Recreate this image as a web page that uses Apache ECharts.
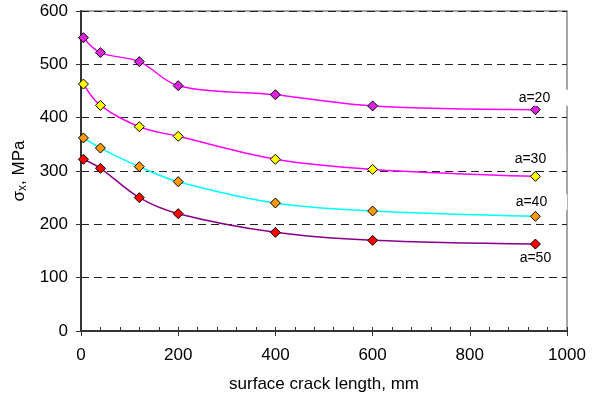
<!DOCTYPE html>
<html>
<head>
<meta charset="utf-8">
<script src="https://cdn.jsdelivr.net/npm/echarts@6/dist/echarts.min.js"></script>
<style>
  html, body { margin: 0; padding: 0; background: #fff; }
  #chart { width: 599px; height: 398px; }
</style>
</head>
<body>
<div id="chart"></div>
<script>
// surface crack length, mm
const crackLength = [5, 40, 120, 200, 400, 600, 935];
// sigma_x, MPa for each a
const stressA20 = [550, 522, 505, 460, 443, 422, 415];
const stressA30 = [463, 423, 383, 365, 322, 303, 290];
const stressA40 = [362, 343, 308, 280, 240, 225, 215];
const stressA50 = [322, 305, 250, 220, 185, 170, 163];
const seriesNames = ["a=20", "a=30", "a=40", "a=50"];

const FONT = "Liberation Sans, Arial, sans-serif";

function buildSeries(name, values, lineColor, markerColor, labelOffset, boxed) {
  const data = values.map((v, i) => [crackLength[i], v]);
  const last = data.length - 1;
  data[last] = {
    value: data[last],
    label: {
      show: true,
      formatter: name,
      position: "inside",
      offset: labelOffset,
      color: "#000",
      fontFamily: FONT,
      fontSize: 14,
      backgroundColor: boxed ? "#fff" : "transparent",
      padding: boxed ? [1, 20, 1, 4] : 0,
    },
  };
  return {
    name: name,
    type: "line",
    smooth: 0.35,
    data: data,
    symbol: "diamond",
    symbolSize: 10,
    lineStyle: { color: lineColor, width: 1.5 },
    itemStyle: { color: markerColor, borderColor: "#000", borderWidth: 1 },
    label: { show: false },
    z: 3,
  };
}

const chart = echarts.init(document.getElementById("chart"));

const options = {
  animation: false,
  backgroundColor: "#fff",
  grid: {
    left: 81,
    right: 32,
    top: 11,
    bottom: 65,
    show: true,
    borderColor: "#888",
    borderWidth: 1.5,
  },
  xAxis: [
    {
      type: "value",
      min: 0,
      max: 1000,
      interval: 200,
      name: "surface crack length, mm",
      nameLocation: "middle",
      nameGap: 45,
      nameTextStyle: { fontFamily: FONT, fontSize: 17, color: "#000" },
      axisLine: { show: true, onZero: false, lineStyle: { color: "#333", width: 2 } },
      axisTick: { show: true, inside: false, length: 5, lineStyle: { color: "#333", width: 1 } },
      axisLabel: { fontFamily: FONT, fontSize: 17, color: "#000", margin: 16, formatter: (v) => String(v) },
      splitLine: { show: false },
    },
    {
      // minor ticks drawn inward
      type: "value",
      min: 0,
      max: 1000,
      interval: 40,
      position: "bottom",
      axisLine: { show: false },
      axisTick: { show: true, inside: true, length: 4, lineStyle: { color: "#333", width: 1 } },
      axisLabel: { show: false },
      splitLine: { show: false },
    },
  ],
  yAxis: {
    type: "value",
    min: 0,
    max: 600,
    interval: 100,
    name: "{s|σ}{sub|x}{s|, MPa}",
    nameLocation: "middle",
    nameGap: 52,
    nameTextStyle: {
      color: "#000",
      rich: {
        s: { fontFamily: FONT, fontSize: 17, color: "#000" },
        sub: { fontFamily: FONT, fontSize: 12, color: "#000", verticalAlign: "bottom", padding: [7, 0, 0, 0] },
      },
    },
    axisLine: { show: true, lineStyle: { color: "#333", width: 2 } },
    axisTick: { show: true, inside: false, length: 5, lineStyle: { color: "#333", width: 1 } },
    axisLabel: { fontFamily: FONT, fontSize: 17, color: "#000", margin: 13 },
    splitLine: { show: true, lineStyle: { color: "#222", width: 1, type: [8, 5] } },
  },
  series: [
    buildSeries(seriesNames[0], stressA20, "#ff00ff", "#dd22dd", [7, -12], true),
    buildSeries(seriesNames[1], stressA30, "#ff00ff", "#ffff00", [3, -17], true),
    buildSeries(seriesNames[2], stressA40, "#00ffff", "#ff9900", [4, -14], true),
    buildSeries(seriesNames[3], stressA50, "#880088", "#ff0000", [0, 14], false),
  ],
};

chart.setOption(options);
</script>
</body>
</html>
